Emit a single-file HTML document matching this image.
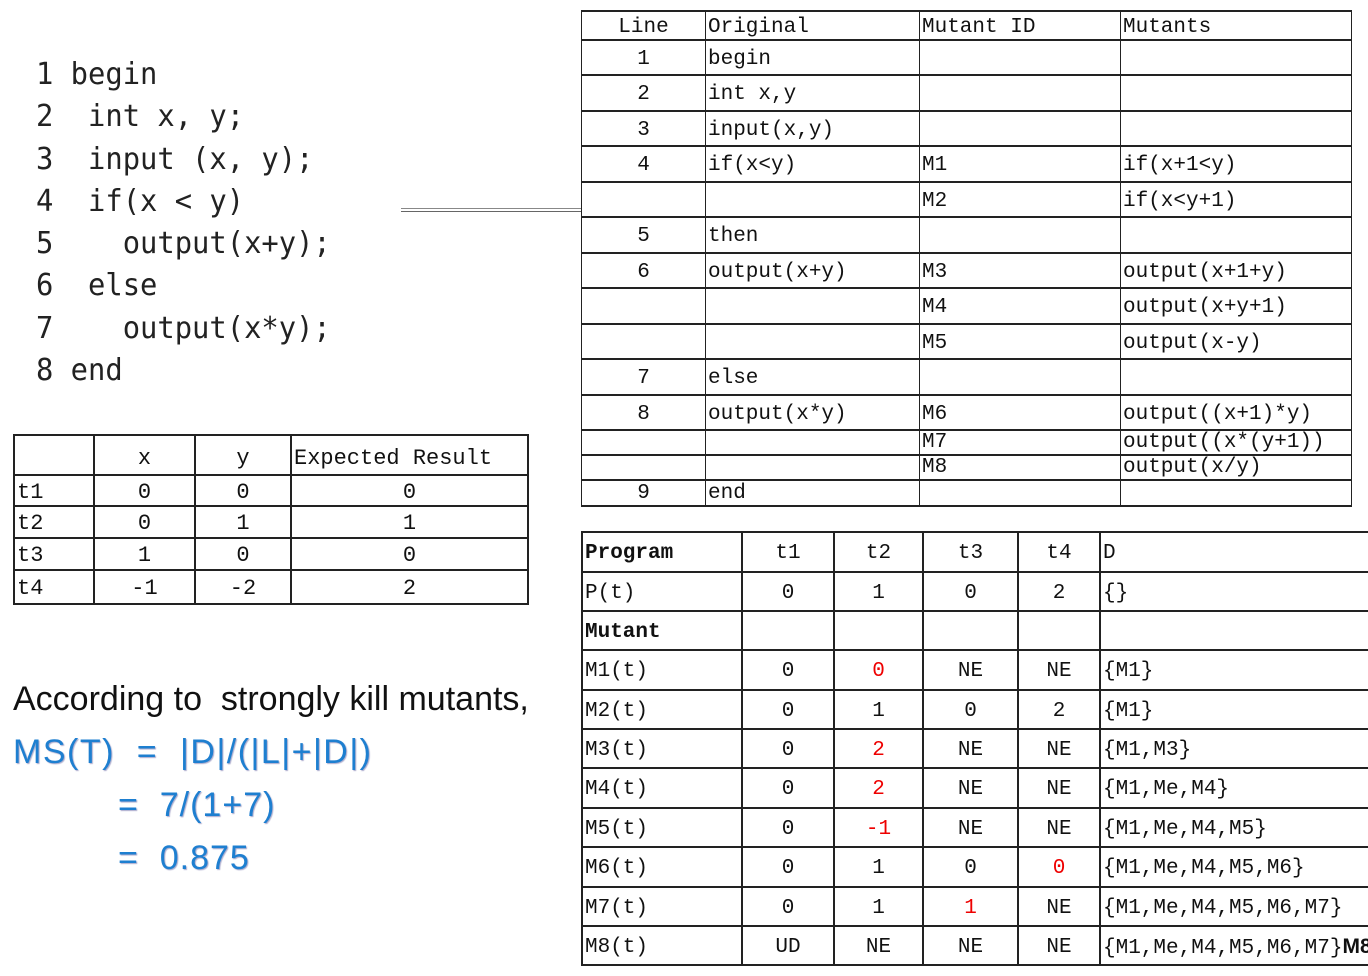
<!DOCTYPE html>
<html><head><meta charset="utf-8"><style>
html,body{margin:0;padding:0;background:#fff;width:1368px;height:976px;overflow:hidden;position:relative}
.code{position:absolute;left:36px;top:54px;font-family:"DejaVu Sans Mono","Liberation Mono",monospace;font-size:30px;line-height:42.3px;color:#222;white-space:pre;transform:scaleX(0.96);transform-origin:0 0}
table{position:absolute;border-collapse:collapse;table-layout:fixed;font-family:"Liberation Mono","Noto Serif CJK SC",monospace;font-size:21px;color:#111}
td{border:2px solid #222;padding:4px 2px 0 2px;white-space:nowrap;overflow:hidden;line-height:20px}
#t1 td.s{padding-top:1px}
.c{text-align:center}.r{color:#e00}.b{font-weight:bold}
#t1 td{border-left-width:1.5px;border-right-width:1.5px}
.txt{position:absolute;font-family:"Liberation Sans",sans-serif;white-space:pre}
.blue{color:#1e7fd0;text-shadow:1px 1px 1px #aac}
</style></head><body>
<div class="code">1 begin
2  int x, y;
3  input (x, y);
4  if(x &lt; y)
5    output(x+y);
6  else
7    output(x*y);
8 end</div>
<div style="position:absolute;left:401px;top:208px;width:180px;height:1px;background:#888"></div>
<div style="position:absolute;left:401px;top:211px;width:180px;height:1px;background:#666"></div>

<table id="t1" style="left:581px;top:10px;width:770px">
<colgroup><col style="width:124px"><col style="width:214px"><col style="width:201px"><col style="width:231px"></colgroup>
<tr style="height:29px"><td class="c">Line</td><td>Original</td><td>Mutant ID</td><td>Mutants</td></tr>
<tr style="height:35px"><td class="c">1</td><td>begin</td><td></td><td></td></tr>
<tr style="height:36px"><td class="c">2</td><td>int x,y</td><td></td><td></td></tr>
<tr style="height:35px"><td class="c">3</td><td>input(x,y)</td><td></td><td></td></tr>
<tr style="height:36px"><td class="c">4</td><td>if(x&lt;y)</td><td>M1</td><td>if(x+1&lt;y)</td></tr>
<tr style="height:35px"><td></td><td></td><td>M2</td><td>if(x&lt;y+1)</td></tr>
<tr style="height:36px"><td class="c">5</td><td>then</td><td></td><td></td></tr>
<tr style="height:35px"><td class="c">6</td><td>output(x+y)</td><td>M3</td><td>output(x+1+y)</td></tr>
<tr style="height:36px"><td></td><td></td><td>M4</td><td>output(x+y+1)</td></tr>
<tr style="height:35px"><td></td><td></td><td>M5</td><td>output(x-y)</td></tr>
<tr style="height:36px"><td class="c">7</td><td>else</td><td></td><td></td></tr>
<tr style="height:35px"><td class="c">8</td><td>output(x*y)</td><td>M6</td><td>output((x+1)*y)</td></tr>
<tr style="height:25px"><td class="s"></td><td class="s"></td><td class="s">M7</td><td class="s">output((x*(y+1))</td></tr>
<tr style="height:25px"><td class="s"></td><td class="s"></td><td class="s">M8</td><td class="s">output(x/y)</td></tr>
<tr style="height:26px"><td class="c s">9</td><td class="s">end</td><td class="s"></td><td class="s"></td></tr>
</table>

<table style="left:13px;top:434px;width:514px;font-size:22px">
<colgroup><col style="width:80px"><col style="width:101px"><col style="width:96px"><col style="width:237px"></colgroup>
<tr style="height:40px"><td style="padding-top:8px"></td><td class="c" style="padding-top:8px">x</td><td class="c" style="padding-top:8px">y</td><td style="padding-top:8px">Expected Result</td></tr>
<tr style="height:31px"><td>t1</td><td class="c">0</td><td class="c">0</td><td class="c">0</td></tr>
<tr style="height:32px"><td>t2</td><td class="c">0</td><td class="c">1</td><td class="c">1</td></tr>
<tr style="height:32px"><td>t3</td><td class="c">1</td><td class="c">0</td><td class="c">0</td></tr>
<tr style="height:34px"><td>t4</td><td class="c">-1</td><td class="c">-2</td><td class="c">2</td></tr>
</table>

<table style="left:581px;top:531px;width:900px">
<colgroup><col style="width:160px"><col style="width:92px"><col style="width:89px"><col style="width:95px"><col style="width:82px"><col style="width:382px"></colgroup>
<tr style="height:40px"><td class="b">Program</td><td class="c">t1</td><td class="c">t2</td><td class="c">t3</td><td class="c">t4</td><td>D</td></tr>
<tr style="height:39px"><td>P(t)</td><td class="c">0</td><td class="c">1</td><td class="c">0</td><td class="c">2</td><td>{}</td></tr>
<tr style="height:39px"><td class="b">Mutant</td><td></td><td></td><td></td><td></td><td></td></tr>
<tr style="height:40px"><td>M1(t)</td><td class="c">0</td><td class="c r">0</td><td class="c">NE</td><td class="c">NE</td><td>{M1}</td></tr>
<tr style="height:39px"><td>M2(t)</td><td class="c">0</td><td class="c">1</td><td class="c">0</td><td class="c">2</td><td>{M1}</td></tr>
<tr style="height:39px"><td>M3(t)</td><td class="c">0</td><td class="c r">2</td><td class="c">NE</td><td class="c">NE</td><td>{M1,M3}</td></tr>
<tr style="height:40px"><td>M4(t)</td><td class="c">0</td><td class="c r">2</td><td class="c">NE</td><td class="c">NE</td><td>{M1,Me,M4}</td></tr>
<tr style="height:39px"><td>M5(t)</td><td class="c">0</td><td class="c r">-1</td><td class="c">NE</td><td class="c">NE</td><td>{M1,Me,M4,M5}</td></tr>
<tr style="height:40px"><td>M6(t)</td><td class="c">0</td><td class="c">1</td><td class="c">0</td><td class="c r">0</td><td>{M1,Me,M4,M5,M6}</td></tr>
<tr style="height:39px"><td>M7(t)</td><td class="c">0</td><td class="c">1</td><td class="c r">1</td><td class="c">NE</td><td>{M1,Me,M4,M5,M6,M7}</td></tr>
<tr style="height:39px"><td>M8(t)</td><td class="c">UD</td><td class="c">NE</td><td class="c">NE</td><td class="c">NE</td><td>{M1,Me,M4,M5,M6,M7}<b style="font-family:'Liberation Sans',sans-serif">M8</b></td></tr>
</table>

<div class="txt" style="left:13px;top:680px;font-size:34px;color:#111">According to  strongly kill mutants,</div>
<div class="txt blue" style="left:13px;top:733px;font-size:34px;letter-spacing:1.5px">MS(T)  =  |D|/(|L|+|D|)</div>
<div class="txt blue" style="left:118px;top:786px;font-size:34px;letter-spacing:1px">=  7/(1+7)</div>
<div class="txt blue" style="left:118px;top:839px;font-size:34px;letter-spacing:1px">=  0.875</div>
</body></html>
